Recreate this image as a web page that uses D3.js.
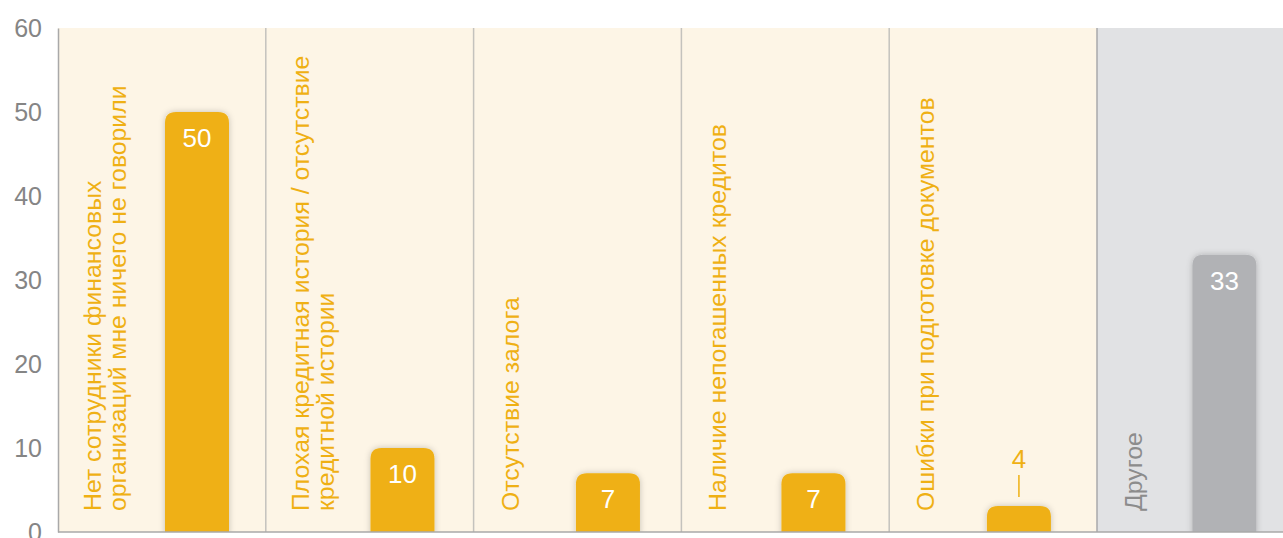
<!DOCTYPE html>
<html>
<head>
<meta charset="utf-8">
<script src="https://cdn.jsdelivr.net/npm/d3@7"></script>
<style>
  html, body { margin: 0; padding: 0; background: #fff; overflow: hidden; }
  svg { display: block; font-family: "Liberation Sans", Arial, Helvetica, sans-serif; }
</style>
</head>
<body>
<svg id="chart" width="1283" height="538"></svg>
<script>
/* ---------- data ---------- */
const categories = [
  ["Нет сотрудники финансовых", "организаций мне ничего не говорили"],
  ["Плохая кредитная история / отсутствие", "кредитной истории"],
  ["Отсутствие залога"],
  ["Наличие непогашенных кредитов"],
  ["Ошибки при подготовке документов"],
  ["Другое"],
];
const values = [50, 10, 7, 7, 3.1, 33];
const valueLabels = ["50", "10", "7", "7", "4", "33"];
const isOther = [false, false, false, false, false, true];
const yTicks = [0, 10, 20, 30, 40, 50, 60];

/* ---------- layout ---------- */
const svg = d3.select("#chart");
const marginLeft = 58, marginTop = 28, plotBottom = 532, step = 207.8;
const barW = 64, radius = 11;
const orange = "#efb014", cream = "#fdf5e6";
const greyPanel = "#e1e2e4", greyBar = "#b1b2b5", greyText = "#8c8c8c";

// panels
const x = d3.scaleBand()
  .domain(d3.range(categories.length))
  .range([marginLeft, marginLeft + step * categories.length])
  .padding(0);
// bar centres sit on their own grid, right of panel centre
const xBar = d3.scalePoint()
  .domain(d3.range(categories.length))
  .range([197, 1224.4]);
const y = d3.scaleLinear().domain([0, 60]).range([plotBottom, marginTop]);

const defs = svg.append("defs");
const shadow = defs.append("filter").attr("id", "shadow")
  .attr("x", "-30%").attr("y", "-30%").attr("width", "160%").attr("height", "160%");
shadow.append("feDropShadow")
  .attr("dx", 0).attr("dy", 0).attr("stdDeviation", 3)
  .attr("flood-color", "#000").attr("flood-opacity", 0.22);
defs.append("clipPath").attr("id", "plotClip")
  .append("rect").attr("x", marginLeft).attr("y", 0)
  .attr("width", step * categories.length).attr("height", plotBottom);

/* panels */
const plot = svg.append("g").attr("clip-path", "url(#plotClip)");
plot.selectAll("rect.panel")
  .data(d3.range(categories.length))
  .join("rect")
  .attr("class", "panel")
  .attr("x", (i) => x(i))
  .attr("y", y(60))
  .attr("width", x.bandwidth())
  .attr("height", y(0) - y(60))
  .attr("fill", (i) => (isOther[i] ? greyPanel : cream));

/* dividers */
plot.selectAll("line.div")
  .data(d3.range(1, categories.length))
  .join("line")
  .attr("class", "div")
  .attr("x1", (i) => x(i)).attr("x2", (i) => x(i))
  .attr("y1", y(60)).attr("y2", y(0))
  .attr("stroke", (i) => (isOther[i] ? "#a9a9ab" : "#c4c2bd"))
  .attr("stroke-width", 1.5);

/* category labels, rotated */
const lineH = 25;
categories.forEach((lines, i) => {
  const x0 = x(i) + (lines.length > 1 ? 43 : 45);
  lines.forEach((t, k) => {
    plot.append("text")
      .attr("transform", `translate(${x0 + k * lineH},511) rotate(-90)`)
      .attr("text-anchor", "start")
      .style("font-size", "24.8px")
      .attr("fill", isOther[i] ? greyText : orange)
      .text(t);
  });
});

/* bars with rounded tops */
function barPath(cx, yTop, yBot) {
  const x0 = cx - barW / 2, x1 = cx + barW / 2;
  const r = Math.min(radius, (yBot - yTop));
  return `M${x0},${yBot + 4}V${yTop + r}Q${x0},${yTop} ${x0 + r},${yTop}` +
    `H${x1 - r}Q${x1},${yTop} ${x1},${yTop + r}V${yBot + 4}Z`;
}

plot.selectAll("path.bar")
  .data(values)
  .join("path")
  .attr("class", "bar")
  .attr("d", (d, i) => barPath(xBar(i), y(d), y(0)))
  .attr("fill", (d, i) => (isOther[i] ? greyBar : orange))
  .attr("filter", "url(#shadow)");

/* value labels */
values.forEach((d, i) => {
  const inside = d >= 5;
  if (inside) {
    plot.append("text")
      .attr("x", xBar(i)).attr("y", y(d) + 35)
      .attr("text-anchor", "middle")
      .style("font-size", "26px")
      .attr("fill", "#fff")
      .text(valueLabels[i]);
  } else {
    plot.append("line")
      .attr("x1", xBar(i)).attr("x2", xBar(i))
      .attr("y1", y(d) - 9).attr("y2", y(d) - 31)
      .attr("stroke", orange).attr("stroke-width", 1.5);
    plot.append("text")
      .attr("x", xBar(i)).attr("y", y(d) - 38)
      .attr("text-anchor", "middle")
      .style("font-size", "26px")
      .attr("fill", orange)
      .text(valueLabels[i]);
  }
});

/* axes */
const yAxis = svg.append("g")
  .attr("transform", `translate(${marginLeft},0)`)
  .call(d3.axisLeft(y).tickValues(yTicks).tickSize(0).tickPadding(16));
yAxis.select(".domain").attr("stroke", "#a9a9a9").attr("stroke-width", 1.5);
yAxis.selectAll("text")
  .style("font-size", "25px")
  .style("font-family", "'Liberation Sans', Arial, sans-serif")
  .attr("fill", "#858585");

svg.append("line")
  .attr("x1", marginLeft).attr("x2", 1283)
  .attr("y1", y(0)).attr("y2", y(0))
  .attr("stroke", "#a9a9a9").attr("stroke-width", 1.5);
</script>
</body>
</html>
